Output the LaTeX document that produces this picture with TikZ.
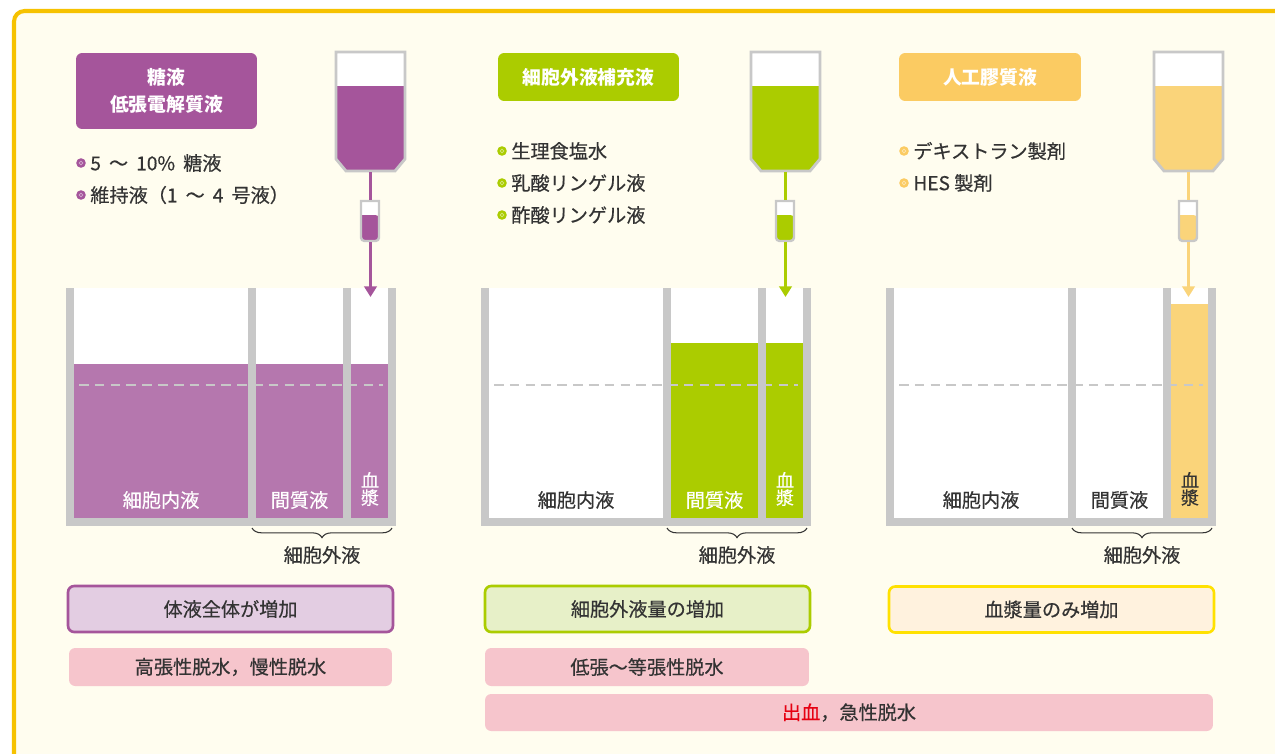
\documentclass[tikz,border=0pt]{standalone}
\usepackage{fontspec}
\setmainfont{Noto Sans CJK JP}
\newfontfamily\bodyfont{Noto Sans CJK JP}[FakeBold=0.45]
\usetikzlibrary{arrows.meta,decorations.pathreplacing}

\definecolor{frame}{HTML}{F6C200}
\definecolor{cream}{HTML}{FFFDEF}
\definecolor{wallgray}{HTML}{C8C8C8}
\definecolor{ink}{HTML}{333333}
\definecolor{purp}{HTML}{A5559B}
\definecolor{purpfill}{HTML}{B577AE}
\definecolor{purplite}{HTML}{E3CDE2}
\definecolor{lime}{HTML}{ABCC00}
\definecolor{limelite}{HTML}{E7F0C8}
\definecolor{gold}{HTML}{FBCB62}
\definecolor{goldfill}{HTML}{FAD47A}
\definecolor{yel}{HTML}{FFE100}
\definecolor{goldlite}{HTML}{FFF2DE}
\definecolor{pinkbox}{HTML}{F6C5CC}
\definecolor{bloodred}{HTML}{E60012}

\newcommand{\gap}{\hspace{0.42em}}

\begin{document}
\begin{tikzpicture}[x=0.02cm,y=-0.02cm,
    txt/.style={text=ink,font=\bodyfont\fontsize{10.9}{12}\selectfont,inner sep=0pt},
    item/.style={txt,anchor=west},
    hdr/.style={rounded corners=3.5pt,text=white,inner sep=0pt,
      font=\fontsize{10.7}{15}\selectfont\bfseries,align=center},
    res/.style={txt,rounded corners=3.5pt,line width=1.5pt,
      minimum width=6.5cm,minimum height=0.92cm},
    sick/.style={txt,rounded corners=3.5pt,fill=pinkbox,minimum height=0.76cm},
    bagline/.style={draw=wallgray,line width=1.6pt},
    tube/.style={line width=1.7pt},
    lvl/.style={draw=wallgray,line width=1.4pt,dash pattern=on 5.5pt off 3.5pt},
    brc/.style={draw=ink,line width=0.6pt,decorate,decoration={brace,amplitude=5.5pt}},
  ]
  \useasboundingbox (0,0) rectangle (1275,754);
  \clip (0,0) rectangle (1275,754);
  \draw[line width=2.3pt,draw=frame,fill=cream,rounded corners=6pt] (14,11) rectangle (1300,790);

  % headers
  \node[hdr,fill=purp,minimum width=3.62cm,minimum height=1.52cm] (hdrA) at (166.5,91) {糖液\\低張電解質液};
  \node[hdr,fill=lime,minimum width=3.62cm,minimum height=0.96cm] (hdrB) at (588.5,77) {細胞外液補充液};
  \node[hdr,fill=gold,minimum width=3.64cm,minimum height=0.96cm] (hdrC) at (990,77) {人工膠質液};

  % bullet lists
  \foreach \bx/\by/\col in {81/163/purp,81/195/purp,502/151/lime,502/183/lime,502/215/lime,904/151/gold,904/183/gold}{
    \fill[\col] (\bx,\by) circle (4.8);
    \draw[white,opacity=.5,line width=0.4pt] (\bx,\by) circle (1.9);
  }
  \node[item] (itA1) at (90,163) {5\gap{}～\gap{}10\%\gap{}糖液};
  \node[item] (itA2) at (90,195) {維持液（1\gap{}～\gap{}4\gap{}号液）};
  \node[item] (itB1) at (511,151) {生理食塩水};
  \node[item] (itB2) at (511,183) {乳酸リンゲル液};
  \node[item] (itB3) at (511,215) {酢酸リンゲル液};
  \node[item] (itC1) at (913,151) {デキストラン製剤};
  \node[item] (itC2) at (913,183) {HES 製剤};

  % compartments
  \foreach \ox in {0,415,820}
    \fill[white] (\ox+74,288) rectangle (\ox+388,518);
  \fill[purpfill] (74,364) rectangle (388,518);
  \fill[lime] (671,343) rectangle (758,518) (766,343) rectangle (803,518);
  \fill[goldfill] (1171,304) rectangle (1208,518);
  \foreach \ox/\nm/\ca/\cb in {0/A/white/white,415/B/ink/white,820/C/ink/ink}{
    \begin{scope}[shift={(\ox,0)}]
      \draw[lvl] (79,385) -- (383,385);
      \foreach \wx in {66,248,343,388}
        \fill[wallgray] (\wx,288) rectangle (\wx+8,526);
      \fill[wallgray] (66,518) rectangle (396,526);
      \node[txt,text=\ca] (icf\nm) at (161,500) {細胞内液};
      \node[txt,text=\cb] (isf\nm) at (299.5,500) {間質液};
      \node[txt,text=\cb,align=center,font=\bodyfont\fontsize{10.2}{9.9}\selectfont] (pls\nm) at (370,489) {血\\漿};
      \draw[brc] (392,528) -- (252,528);
      \node[txt] (ecf\nm) at (322,555) {細胞外液};
    \end{scope}
  }

  % drip bags
  \foreach \ox/\nm/\col in {0/A/purp,415/B/lime,818/C/goldfill}{
    \begin{scope}[shift={(\ox,0)}]
      \fill[white] (336,52) rectangle (405,86);
      \fill[\col] (336,86) -- (405,86) -- (405,159) -- (395,171) -- (346,171) -- (336,159) -- cycle;
      \draw[bagline] (336,52) -- (405,52) -- (405,159) -- (395,171) -- (346,171) -- (336,159) -- cycle;
      \fill[white] (361,201) rectangle (379,215);
      \fill[\col,rounded corners=2pt] (361,215) -- (361,241) -- (379,241) -- (379,215) [sharp corners] -- cycle;
      \draw[bagline,line width=1.4pt,rounded corners=2pt] (379,215) -- (379,241) -- (361,241) -- (361,215)
        [sharp corners] -- (361,201) -- (379,201) -- (379,215);
      \coordinate (bag\nm) at (370.5,172);
      \coordinate (dripin\nm) at (370.5,200);
      \coordinate (dripout\nm) at (370.5,242);
      \coordinate (tip\nm) at (370.5,297);
      \draw[tube,\col] (bag\nm) -- (dripin\nm);
      \draw[tube,\col,-{Triangle[length=6pt,width=7pt]}] (dripout\nm) -- (tip\nm);
    \end{scope}
  }

  % results
  \node[res,draw=purp,fill=purplite] (chgA) at (230.5,609) {体液全体が増加};
  \node[res,draw=lime,fill=limelite] (chgB) at (647.5,609) {細胞外液量の増加};
  \node[res,draw=yel,fill=goldlite] (chgC) at (1051.5,609.5) {血漿量のみ増加};
  \node[sick,minimum width=6.46cm] (dehA) at (230.5,667) {高張性脱水，慢性脱水};
  \node[sick,minimum width=6.48cm] (dehB) at (647,667) {低張～等張性脱水};
  \node[sick,minimum width=14.56cm,minimum height=0.74cm] (bleed) at (849,712.5) {{\color{bloodred}出血}，急性脱水};
\end{tikzpicture}
\end{document}
